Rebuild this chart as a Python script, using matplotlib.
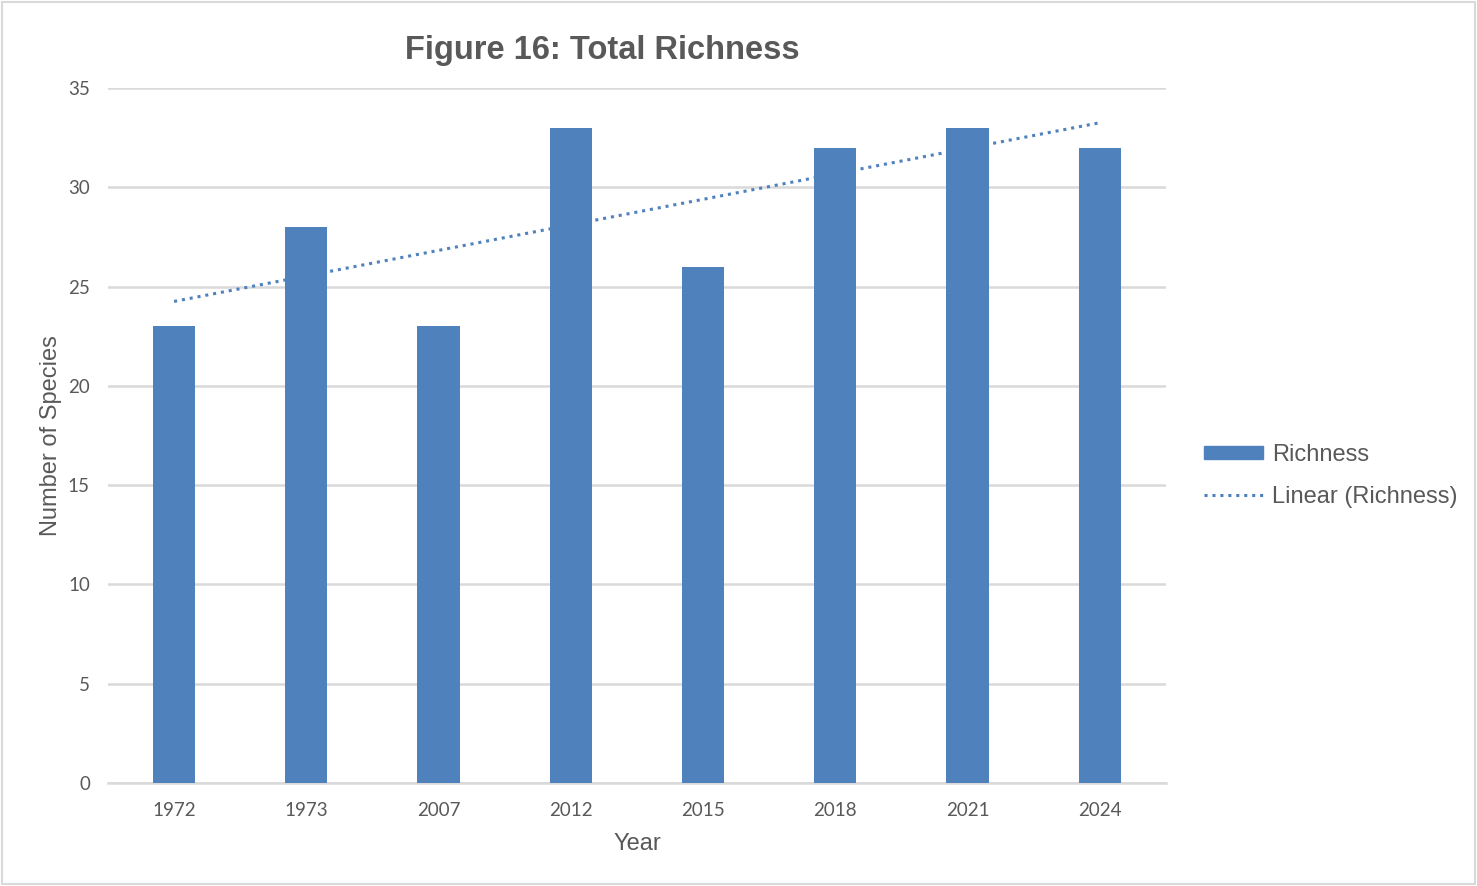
import numpy as np
import matplotlib.pyplot as plt
from matplotlib.patches import Rectangle
from matplotlib.lines import Line2D
from matplotlib.patches import Patch

years = ["1972", "1973", "2007", "2012", "2015", "2018", "2021", "2024"]
richness = [23, 28, 23, 33, 26, 32, 33, 32]
yticks = [0, 5, 10, 15, 20, 25, 30, 35]

bar_color = "#4F81BD"
text_color = "#595959"
grid_color = "#D9D9D9"

fig = plt.figure(figsize=(14.77, 8.86), dpi=100)
ax = fig.add_axes([0.0731, 0.1163, 0.7163, 0.7844])

x = np.arange(len(years))
ax.bar(x, richness, width=0.32, color=bar_color, zorder=3)

# least-squares trend over the category index, as a spreadsheet would draw it
slope, intercept = np.polyfit(x + 1, richness, 1)
trend = slope * (x + 1) + intercept
ax.plot(x, trend, linestyle=(0, (1, 1.6)), color=bar_color, linewidth=2.2, zorder=2)

ax.set_xlim(-0.5, len(years) - 0.5)
ax.set_ylim(0, 35)
ax.set_yticks(yticks)
ax.set_xticks(x)
ax.set_xticklabels(years)
ax.yaxis.grid(True, color=grid_color, linewidth=1.8, zorder=0)
ax.set_axisbelow(True)
for s in ["top", "right", "left"]:
    ax.spines[s].set_visible(False)
ax.spines["bottom"].set_color(grid_color)
ax.spines["bottom"].set_linewidth(1.8)
ax.tick_params(axis="both", length=0, colors=text_color, labelsize=13.5)
ax.tick_params(axis="x", pad=14)
ax.tick_params(axis="y", pad=13)
for lbl in ax.get_xticklabels() + ax.get_yticklabels():
    lbl.set_family("Lato")

ax.set_xlabel("Year", color=text_color, fontsize=17, family="Liberation Sans", labelpad=10)
ax.set_ylabel("Number of Species", color=text_color, fontsize=17, family="Liberation Sans", labelpad=4)

fig.text(0.408, 0.943, "Figure 16: Total Richness", ha="center", va="center",
         fontsize=23.5, fontweight="bold", color=text_color, family="Liberation Sans")

handles = [Patch(facecolor=bar_color, edgecolor=bar_color),
           Line2D([0], [0], color=bar_color, linestyle=(0, (1, 1.6)), linewidth=2.2)]
leg = fig.legend(handles, ["Richness", "Linear (Richness)"], loc="center left",
                 bbox_to_anchor=(0.8005, 0.463), frameon=False, handlelength=2.5,
                 handleheight=0.45, labelspacing=0.85, handletextpad=0.4,
                 prop={"family": "Liberation Sans", "size": 17})
for t in leg.get_texts():
    t.set_color(text_color)

fig.patches.append(Rectangle((0.0015, 0.002), 0.997, 0.996, transform=fig.transFigure,
                             fill=False, edgecolor="#D9D9D9", linewidth=1.5))

fig.savefig("out.png", dpi=100)
